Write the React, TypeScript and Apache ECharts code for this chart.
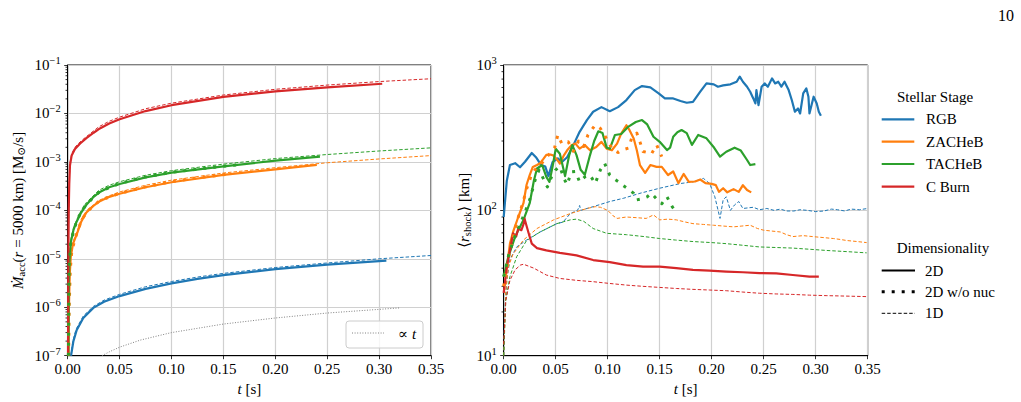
import React, { useEffect, useRef } from "react";
import * as echarts from "echarts";

const FONT = "'Liberation Serif', 'DejaVu Serif', 'Times New Roman', serif";

// colours of the stellar stages
const C_RGB = "#1f77b4";
const C_ZAC = "#ff7f0e";
const C_TAC = "#2ca02c";
const C_CB = "#d62728";

// axis ticks
const timeTicks = [0, 0.05, 0.1, 0.15, 0.2, 0.25, 0.3, 0.35];
const mdotDecades = [-7, -6, -5, -4, -3, -2, -1];
const shockDecades = [1, 2, 3];
const minorMantissas = [2, 3, 4, 5, 6, 7, 8, 9];

// ---- accretion rate at r = 5000 km  [Msun/s] vs t [s]
const mdotRgb2D = [[0.0032, 1e-7], [0.0055, 2.0e-7], [0.0087, 3.4e-7], [0.015, 6.0e-7], [0.0247, 9.7e-7], [0.035, 1.3e-6], [0.05, 1.7e-6], [0.075, 2.4e-6], [0.1, 3.1e-6], [0.125, 3.85e-6], [0.15, 4.6e-6], [0.2, 6.1e-6], [0.25, 7.6e-6], [0.307, 9.2e-6]];
const mdotRgb1D = [[0.003, 1e-7], [0.005, 2.0e-7], [0.008, 3.5e-7], [0.015, 6.6e-7], [0.025, 1.05e-6], [0.035, 1.4e-6], [0.05, 1.85e-6], [0.075, 2.65e-6], [0.1, 3.4e-6], [0.125, 4.2e-6], [0.15, 5.0e-6], [0.2, 6.6e-6], [0.25, 8.2e-6], [0.3, 1.0e-5], [0.35, 1.17e-5]];

const mdotZac2D = [[0.0008, 1e-7], [0.0012, 1e-6], [0.002, 5e-6], [0.003, 1.1e-5], [0.005, 2.0e-5], [0.0087, 3.2e-5], [0.013, 5.8e-5], [0.018, 9.0e-5], [0.025, 1.25e-4], [0.031, 1.55e-4], [0.04, 1.9e-4], [0.05, 2.2e-4], [0.075, 3.0e-4], [0.1, 3.8e-4], [0.15, 5.4e-4], [0.2, 7.0e-4], [0.24, 8.7e-4]];
const mdotZac1D = [[0.0008, 1e-7], [0.0012, 1.2e-6], [0.002, 6e-6], [0.003, 1.25e-5], [0.005, 2.2e-5], [0.009, 3.7e-5], [0.013, 6.6e-5], [0.018, 9.8e-5], [0.03, 1.6e-4], [0.04, 2.0e-4], [0.05, 2.4e-4], [0.075, 3.3e-4], [0.1, 4.2e-4], [0.15, 5.9e-4], [0.2, 7.6e-4], [0.25, 9.6e-4], [0.3, 1.15e-3], [0.35, 1.35e-3]];
const mdotZacNoNuc = [[0.0009, 1e-7], [0.0014, 1e-6], [0.0025, 6e-6], [0.004, 1.5e-5], [0.0087, 3.3e-5], [0.013, 6.0e-5], [0.018, 9.2e-5], [0.031, 1.6e-4], [0.05, 2.25e-4], [0.075, 3.05e-4], [0.1, 3.9e-4], [0.125, 4.7e-4], [0.155, 5.6e-4]];

const mdotTac2D = [[0.0006, 1e-7], [0.001, 2e-6], [0.0015, 8e-6], [0.003, 2.2e-5], [0.0055, 3.9e-5], [0.0087, 5.9e-5], [0.013, 9.0e-5], [0.018, 1.3e-4], [0.025, 1.9e-4], [0.031, 2.4e-4], [0.04, 3.0e-4], [0.05, 3.5e-4], [0.075, 4.8e-4], [0.1, 6.0e-4], [0.15, 8.1e-4], [0.2, 1.06e-3], [0.243, 1.29e-3]];
const mdotTac1D = [[0.0006, 1e-7], [0.001, 2.3e-6], [0.0015, 9e-6], [0.003, 2.5e-5], [0.0055, 4.3e-5], [0.009, 6.6e-5], [0.013, 1.0e-4], [0.018, 1.45e-4], [0.03, 2.6e-4], [0.04, 3.3e-4], [0.05, 3.9e-4], [0.075, 5.3e-4], [0.1, 6.6e-4], [0.15, 9.0e-4], [0.2, 1.17e-3], [0.25, 1.42e-3], [0.3, 1.68e-3], [0.35, 1.95e-3]];
const mdotTacNoNuc = [[0.0007, 1e-7], [0.0011, 2.2e-6], [0.0016, 8.5e-6], [0.003, 2.3e-5], [0.0087, 6.1e-5], [0.013, 9.3e-5], [0.018, 1.34e-4], [0.031, 2.45e-4], [0.05, 3.6e-4], [0.075, 4.9e-4], [0.1, 6.1e-4], [0.13, 7.3e-4], [0.166, 8.8e-4]];

const mdotCb2D = [[0.0003, 1e-7], [0.0006, 1e-5], [0.001, 1e-4], [0.0015, 3.5e-4], [0.0022, 8.5e-4], [0.0038, 1.35e-3], [0.007, 1.85e-3], [0.012, 2.4e-3], [0.018, 3.1e-3], [0.025, 4.0e-3], [0.031, 4.9e-3], [0.04, 6.2e-3], [0.05, 7.6e-3], [0.075, 1.12e-2], [0.1, 1.48e-2], [0.15, 2.2e-2], [0.2, 2.85e-2], [0.25, 3.45e-2], [0.303, 4.1e-2]];
const mdotCb1D = [[0.0003, 1e-7], [0.0006, 1.2e-5], [0.001, 1.2e-4], [0.0015, 4e-4], [0.0022, 9.5e-4], [0.004, 1.5e-3], [0.007, 2.0e-3], [0.012, 2.6e-3], [0.02, 3.6e-3], [0.03, 5.3e-3], [0.04, 6.9e-3], [0.05, 8.4e-3], [0.075, 1.25e-2], [0.1, 1.63e-2], [0.15, 2.4e-2], [0.2, 3.15e-2], [0.25, 3.85e-2], [0.3, 4.55e-2], [0.35, 5.2e-2]];

const mdotLinearRef = [[0.033, 1e-7], [0.04, 1.2e-7], [0.05, 1.5e-7], [0.07, 2.1e-7], [0.1, 3.0e-7], [0.15, 4.5e-7], [0.2, 6.0e-7], [0.25, 7.6e-7], [0.32, 9.7e-7]];

// ---- mean shock radius [km] vs t [s]
const shockRgb2D = [[0, 90], [0.003, 160], [0.006, 205], [0.011, 211], [0.0157, 198], [0.0205, 216], [0.027, 248], [0.031, 232], [0.036, 205], [0.04, 200], [0.043, 172], [0.047, 215], [0.052, 228], [0.056, 215], [0.061, 232], [0.067, 281], [0.073, 347], [0.08, 418], [0.086, 477], [0.094, 513], [0.102, 481], [0.11, 513], [0.118, 574], [0.126, 672], [0.133, 716], [0.141, 701], [0.149, 638], [0.155, 589], [0.163, 589], [0.17, 565], [0.176, 550], [0.182, 558], [0.189, 655], [0.195, 747], [0.202, 736], [0.206, 709], [0.211, 724], [0.218, 736], [0.224, 767], [0.227, 831], [0.23, 767], [0.234, 709], [0.237, 655], [0.24, 589], [0.242, 544], [0.243, 672], [0.245, 530], [0.248, 709], [0.251, 747], [0.254, 709], [0.258, 809], [0.261, 747], [0.264, 767], [0.267, 709], [0.27, 767], [0.274, 672], [0.277, 574], [0.28, 477], [0.283, 502], [0.285, 464], [0.288, 638], [0.291, 690], [0.293, 605], [0.294, 464], [0.298, 605], [0.301, 544], [0.303, 477], [0.305, 447]];
const shockRgb1D = [[0, 10], [0.001, 20], [0.003, 33], [0.006, 46], [0.0125, 56], [0.022, 62.5], [0.035, 71], [0.051, 81], [0.057, 83], [0.064, 95], [0.071, 100], [0.073, 108], [0.074, 100], [0.086, 106], [0.102, 115], [0.115, 121], [0.131, 131], [0.15, 142], [0.17, 153], [0.182, 157], [0.192, 166], [0.198, 153], [0.203, 124], [0.208, 88], [0.211, 118], [0.214, 124], [0.218, 100], [0.222, 109], [0.226, 115], [0.23, 103], [0.24, 105], [0.246, 101], [0.253, 103], [0.26, 100], [0.266, 102], [0.272, 99], [0.279, 99], [0.285, 101], [0.292, 100], [0.3, 98], [0.308, 99], [0.315, 102], [0.321, 101], [0.328, 99], [0.334, 102], [0.342, 101], [0.35, 103]];

const shockZac2D = [[0, 35], [0.003, 40], [0.006, 59], [0.009, 71], [0.014, 90], [0.019, 112], [0.022, 150], [0.025, 175], [0.028, 199], [0.032, 205], [0.035, 211], [0.038, 225], [0.041, 241], [0.045, 242], [0.048, 238], [0.051, 225], [0.054, 210], [0.058, 240], [0.061, 259], [0.065, 280], [0.069, 288], [0.073, 266], [0.078, 281], [0.083, 259], [0.089, 273], [0.094, 296], [0.099, 266], [0.104, 259], [0.109, 288], [0.113, 337], [0.118, 385], [0.121, 356], [0.125, 312], [0.128, 259], [0.131, 205], [0.136, 181], [0.141, 205], [0.147, 199], [0.152, 199], [0.158, 175], [0.163, 185], [0.168, 154], [0.173, 178], [0.178, 157], [0.184, 158], [0.189, 163], [0.194, 154], [0.2, 152], [0.204, 149], [0.207, 134], [0.211, 142], [0.215, 133], [0.221, 140], [0.226, 134], [0.23, 149], [0.234, 138], [0.238, 133]];
const shockZac1D = [[0, 10], [0.002, 28], [0.0045, 41], [0.009, 50], [0.019, 62.5], [0.032, 75], [0.048, 86], [0.064, 95], [0.08, 103], [0.088, 106], [0.093, 105], [0.1, 100], [0.105, 92], [0.109, 88], [0.118, 90], [0.128, 89], [0.137, 88], [0.144, 93], [0.15, 86], [0.158, 87], [0.166, 86], [0.175, 83], [0.182, 81], [0.192, 80], [0.2016, 79], [0.211, 78], [0.221, 77], [0.229, 78], [0.237, 79], [0.244, 75], [0.25, 73], [0.258, 72], [0.266, 71], [0.272, 68], [0.278, 66], [0.288, 67], [0.297, 66], [0.307, 65], [0.317, 64], [0.324, 63], [0.33, 62], [0.34, 61], [0.349, 60]];
const shockZacNoNuc = [[0, 30], [0.004, 45], [0.008, 60], [0.013, 85], [0.018, 110], [0.022, 140], [0.026, 170], [0.03, 190], [0.035, 205], [0.04, 225], [0.045, 250], [0.049, 270], [0.052, 330], [0.056, 286], [0.062, 296], [0.067, 255], [0.072, 300], [0.077, 275], [0.081, 330], [0.088, 387], [0.093, 366], [0.097, 330], [0.101, 290], [0.105, 262], [0.11, 250], [0.115, 262], [0.12, 268], [0.123, 313], [0.128, 340], [0.131, 296], [0.134, 254], [0.138, 250], [0.142, 244], [0.147, 282], [0.152, 234]];

const shockTac2D = [[0, 35], [0.0045, 48], [0.011, 66], [0.019, 86], [0.025, 112], [0.029, 160], [0.032, 194], [0.037, 205], [0.041, 170], [0.044, 157], [0.047, 200], [0.05, 265], [0.054, 245], [0.059, 172], [0.063, 240], [0.066, 281], [0.07, 240], [0.074, 190], [0.078, 176], [0.083, 240], [0.087, 300], [0.091, 350], [0.095, 340], [0.099, 270], [0.102, 265], [0.107, 330], [0.113, 335], [0.12, 377], [0.127, 405], [0.133, 418], [0.138, 390], [0.144, 321], [0.15, 296], [0.157, 260], [0.16, 270], [0.163, 321], [0.167, 345], [0.171, 357], [0.176, 340], [0.181, 282], [0.187, 330], [0.195, 313], [0.2016, 274], [0.208, 234], [0.214, 253], [0.222, 270], [0.228, 258], [0.234, 222], [0.237, 205], [0.242, 208]];
const shockTac1D = [[0, 10], [0.002, 24], [0.006, 35], [0.0125, 48], [0.022, 62], [0.035, 71], [0.051, 81], [0.064, 86], [0.07, 87], [0.077, 84], [0.086, 75], [0.099, 69.5], [0.118, 68], [0.135, 66], [0.15, 64], [0.165, 62.5], [0.182, 61], [0.2, 60], [0.214, 59], [0.23, 57.5], [0.246, 56], [0.262, 55.5], [0.278, 55], [0.294, 54], [0.31, 53], [0.33, 52], [0.349, 51]];
const shockTacNoNuc = [[0, 35], [0.005, 50], [0.01, 64], [0.015, 78], [0.02, 95], [0.025, 118], [0.03, 160], [0.034, 190], [0.038, 166], [0.042, 145], [0.046, 170], [0.05, 190], [0.054, 200], [0.058, 165], [0.061, 150], [0.065, 184], [0.069, 185], [0.073, 157], [0.078, 170], [0.083, 175], [0.088, 153], [0.093, 190], [0.097, 211], [0.102, 175], [0.106, 165], [0.11, 158], [0.115, 148], [0.12, 140], [0.125, 131], [0.128, 118], [0.133, 120], [0.138, 124], [0.142, 131], [0.147, 120], [0.152, 111], [0.157, 124], [0.162, 106], [0.166, 97]];

const shockCb2D = [[0, 27], [0.003, 41], [0.006, 53], [0.009, 69.5], [0.012, 66], [0.014, 75], [0.017, 73], [0.019, 80], [0.02, 88], [0.022, 78], [0.024, 69.5], [0.027, 59], [0.032, 55], [0.041, 53], [0.054, 51], [0.07, 49], [0.086, 45.5], [0.102, 44], [0.118, 42], [0.134, 41], [0.15, 41], [0.166, 40], [0.182, 39], [0.198, 38.5], [0.214, 37.9], [0.23, 37.5], [0.246, 37], [0.262, 36.8], [0.278, 35.9], [0.294, 35], [0.303, 35]];
const shockCb1D = [[0, 12], [0.002, 24], [0.006, 33], [0.011, 39], [0.016, 42], [0.019, 42.6], [0.029, 40], [0.041, 35.9], [0.054, 34], [0.07, 33], [0.086, 32.3], [0.102, 31.4], [0.118, 30.6], [0.134, 30], [0.15, 29.5], [0.166, 29], [0.182, 28.6], [0.198, 28.3], [0.214, 28], [0.23, 27.4], [0.246, 26.9], [0.262, 26.6], [0.278, 26.4], [0.294, 26.1], [0.31, 25.9], [0.33, 25.7], [0.349, 25.5]];

const stageLegend = [
  { label: "RGB", color: C_RGB },
  { label: "ZACHeB", color: C_ZAC },
  { label: "TACHeB", color: C_TAC },
  { label: "C Burn", color: C_CB },
];
const dimLegend = ["2D", "2D w/o nuc", "1D"];

const SOLID = { width: 2.2, type: "solid" as any };
const NONUC = { width: 3, type: [3, 7] as any };
const ONED = { width: 1, type: [3.5, 2] as any };

const rich = {
  n: { fontSize: 15, fontFamily: FONT, color: "#000" },
  it: { fontSize: 15, fontFamily: FONT, fontStyle: "italic", color: "#000" },
  sub: { fontSize: 10.5, fontFamily: FONT, color: "#000", padding: [7, 0, 0, 0] },
  sup: { fontSize: 10.5, fontFamily: FONT, color: "#000", padding: [0, 0, 9, 0] },
};

function lineSeries(data: number[][], color: string, style: any, axis: number, z = 2) {
  return {
    type: "line",
    xAxisIndex: axis,
    yAxisIndex: axis,
    data,
    showSymbol: false,
    symbol: "none",
    silent: true,
    z,
    lineStyle: { color, width: style.width, type: style.type, cap: "butt", join: "round" },
  };
}

function minorTickSeries(decades: number[], axis: number) {
  const data: number[][] = [];
  decades.forEach((d) => minorMantissas.forEach((m) => data.push([0, m * Math.pow(10, d)])));
  return {
    type: "custom",
    xAxisIndex: axis,
    yAxisIndex: axis,
    data,
    clip: false,
    silent: true,
    renderItem: (_p: any, api: any) => {
      const p = api.coord([0, api.value(1)]);
      return {
        type: "line",
        shape: { x1: p[0] - 2.2, y1: p[1], x2: p[0], y2: p[1] },
        style: { stroke: "#000", lineWidth: 0.8 },
      };
    },
  };
}

function powLabel(v: number) {
  const e = Math.round(Math.log10(v));
  const s = e < 0 ? "\u2212" + Math.abs(e) : String(e);
  return `{n|10}{sup|${s}}`;
}

function timeAxis(grid: number) {
  return {
    type: "value",
    gridIndex: grid,
    min: timeTicks[0],
    max: timeTicks[timeTicks.length - 1],
    interval: 0.05,
    axisLine: { show: true, onZero: false, lineStyle: { color: "#000", width: 1 } },
    axisTick: { show: true, length: 3.5, lineStyle: { color: "#000", width: 0.8 } },
    axisLabel: { formatter: (v: number) => v.toFixed(2), fontSize: 15, color: "#000", fontFamily: FONT, margin: 6 },
    splitLine: { show: true, lineStyle: { color: "#d0d0d0", width: 1.2 } },
    name: "{it|t}{n| [s]}",
    nameLocation: "middle",
    nameGap: 22,
    nameTextStyle: { rich },
  };
}

function logAxis(grid: number, decades: number[], name: string, nameGap: number) {
  return {
    type: "log",
    logBase: 10,
    gridIndex: grid,
    min: Math.pow(10, decades[0]),
    max: Math.pow(10, decades[decades.length - 1]),
    splitNumber: decades.length - 1,
    axisLine: { show: true, onZero: false, lineStyle: { color: "#000", width: 1 } },
    axisTick: { show: true, length: 3.5, lineStyle: { color: "#000", width: 0.8 } },
    axisLabel: { formatter: powLabel, rich, margin: 7 },
    splitLine: { show: true, lineStyle: { color: "#d0d0d0", width: 1.2 } },
    name,
    nameLocation: "middle",
    nameRotate: 90,
    nameGap,
    nameTextStyle: { rich },
  };
}

export default function App() {
  const ref = useRef<HTMLDivElement>(null);

  useEffect(() => {
    if (!ref.current) return;
    const chart = echarts.init(ref.current, undefined, { renderer: "svg" });

    const graphics: any[] = [];
    // page number
    graphics.push({ type: "text", x: 1014, y: 15, style: { text: "10", font: `16px ${FONT}`, fill: "#000", align: "right", verticalAlign: "middle" } });

    // legend for the proportional reference line
    graphics.push({ type: "rect", shape: { x: 346, y: 321, width: 77, height: 27, r: 3 }, style: { fill: "rgba(255,255,255,0.8)", stroke: "#cccccc", lineWidth: 1 }, z: 10 });
    graphics.push({ type: "line", shape: { x1: 352, y1: 333, x2: 384, y2: 333 }, style: { stroke: "#808080", lineWidth: 1, lineDash: [1, 1.6] }, z: 11 });
    graphics.push({ type: "text", x: 398, y: 334, z: 11, style: { text: "{n|\u221D }{it|t}", rich, verticalAlign: "middle", align: "left" } });

    // stellar stage legend
    graphics.push({ type: "text", x: 935, y: 97, style: { text: "Stellar Stage", font: `15px ${FONT}`, fill: "#000", align: "center", verticalAlign: "middle" } });
    const stageY = [119.3, 141.7, 164, 186.7];
    stageLegend.forEach((s, i) => {
      graphics.push({ type: "line", shape: { x1: 881.7, y1: stageY[i], x2: 914.3, y2: stageY[i] }, style: { stroke: s.color, lineWidth: 2.2 } });
      graphics.push({ type: "text", x: 926, y: stageY[i], style: { text: s.label, font: `15px ${FONT}`, fill: "#000", align: "left", verticalAlign: "middle" } });
    });

    // dimensionality legend
    graphics.push({ type: "text", x: 943, y: 248.3, style: { text: "Dimensionality", font: `15px ${FONT}`, fill: "#000", align: "center", verticalAlign: "middle" } });
    const dimY = [270.5, 291.7, 313.3];
    const dimStyles = [SOLID, NONUC, ONED];
    dimLegend.forEach((lab, i) => {
      const st = dimStyles[i];
      graphics.push({ type: "line", shape: { x1: 881.7, y1: dimY[i], x2: 915, y2: dimY[i] }, style: { stroke: "#000", lineWidth: st.width, lineDash: Array.isArray(st.type) ? st.type : null, lineCap: "butt" } });
      graphics.push({ type: "text", x: 925, y: dimY[i], style: { text: lab, font: `15px ${FONT}`, fill: "#000", align: "left", verticalAlign: "middle" } });
    });

    const option: any = {
      animation: false,
      textStyle: { fontFamily: FONT, color: "#000" },
      grid: [
        { left: 67.7, top: 65, width: 363.3, height: 290.7, show: true, borderColor: "#000", borderWidth: 1, backgroundColor: "transparent" },
        { left: 503.7, top: 65, width: 364, height: 290.7, show: true, borderColor: "#000", borderWidth: 1, backgroundColor: "transparent" },
      ],
      xAxis: [timeAxis(0), timeAxis(1)],
      yAxis: [
        logAxis(0, mdotDecades, "{it|\u1E40}{sub|acc}{n|(}{it|r}{n| = 5000 km) [M}{sub|\u2299}{n|/s]}", 41),
        logAxis(1, shockDecades, "{n|\u27E8}{it|r}{sub|shock}{n|\u27E9 [km]}", 30),
      ],
      series: [
        minorTickSeries(mdotDecades.slice(0, -1), 0),
        minorTickSeries(shockDecades.slice(0, -1), 1),

        lineSeries(mdotLinearRef, "#808080", { width: 1, type: [1, 1.6] }, 0),
        lineSeries(mdotRgb1D, C_RGB, ONED, 0),
        lineSeries(mdotZac1D, C_ZAC, ONED, 0),
        lineSeries(mdotTac1D, C_TAC, ONED, 0),
        lineSeries(mdotCb1D, C_CB, ONED, 0),
        lineSeries(mdotRgb2D, C_RGB, SOLID, 0),
        lineSeries(mdotZac2D, C_ZAC, SOLID, 0),
        lineSeries(mdotTac2D, C_TAC, SOLID, 0),
        lineSeries(mdotCb2D, C_CB, SOLID, 0),
        lineSeries(mdotZacNoNuc, C_ZAC, NONUC, 0),
        lineSeries(mdotTacNoNuc, C_TAC, NONUC, 0),

        lineSeries(shockRgb1D, C_RGB, ONED, 1),
        lineSeries(shockZac1D, C_ZAC, ONED, 1),
        lineSeries(shockTac1D, C_TAC, ONED, 1),
        lineSeries(shockCb1D, C_CB, ONED, 1),
        lineSeries(shockRgb2D, C_RGB, SOLID, 1),
        lineSeries(shockZac2D, C_ZAC, SOLID, 1),
        lineSeries(shockTac2D, C_TAC, SOLID, 1),
        lineSeries(shockCb2D, C_CB, SOLID, 1),
        lineSeries(shockZacNoNuc, C_ZAC, NONUC, 1),
        lineSeries(shockTacNoNuc, C_TAC, NONUC, 1),
      ],
      graphic: graphics,
    };

    chart.setOption(option);
    return () => chart.dispose();
  }, []);

  return <div ref={ref} style={{ position: "absolute", left: 0, top: 0, width: 1021, height: 402, background: "#fff" }} />;
}
